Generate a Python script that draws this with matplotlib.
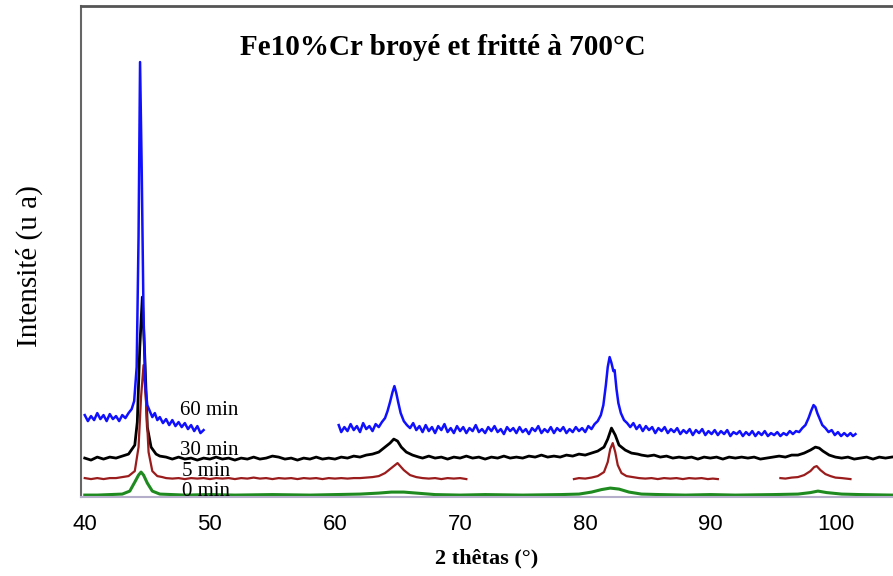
import matplotlib.pyplot as plt

# 2 theta (deg), intensity (arbitrary units) pairs

# 60 min (blue), two segments
pts_60a = [(40.0, 82), (40.25, 76), (40.5, 81), (40.75, 77), (41.0, 84), (41.25, 78),
           (41.5, 82), (41.75, 76), (42.0, 83), (42.25, 78), (42.5, 81), (42.75, 76),
           (43.0, 82), (43.25, 79), (43.5, 84), (43.75, 88), (43.95, 96), (44.15, 130),
           (44.3, 260), (44.42, 435), (44.55, 330), (44.7, 180), (44.85, 110), (45.0, 92),
           (45.2, 86), (45.4, 80), (45.6, 84), (45.8, 77), (46.0, 80), (46.25, 74),
           (46.5, 78), (46.75, 72), (47.0, 77), (47.25, 71), (47.5, 75), (47.75, 70),
           (48.0, 74), (48.25, 68), (48.5, 72), (48.75, 66), (49.0, 71), (49.25, 64),
           (49.5, 67)]

pts_60b = [(60.3, 72), (60.5, 65), (60.75, 70), (61.0, 66), (61.25, 73), (61.5, 67),
           (61.75, 71), (62.0, 65), (62.25, 74), (62.5, 68), (62.75, 71), (63.0, 66),
           (63.25, 73), (63.5, 70), (63.75, 75), (64.0, 79), (64.2, 86), (64.4, 95),
           (64.6, 105), (64.75, 111), (64.9, 104), (65.05, 95), (65.25, 84), (65.5, 76),
           (65.75, 72), (66.0, 69), (66.25, 74), (66.5, 67), (66.75, 71), (67.0, 65),
           (67.25, 72), (67.5, 66), (67.75, 70), (68.0, 64), (68.25, 71), (68.5, 67),
           (68.75, 73), (69.0, 65), (69.25, 69), (69.5, 64), (69.75, 71), (70.0, 66),
           (70.25, 70), (70.5, 64), (70.75, 69), (71.0, 66), (71.25, 72), (71.5, 65),
           (71.75, 68), (72.0, 64), (72.25, 70), (72.5, 66), (72.75, 71), (73.0, 65),
           (73.25, 68), (73.5, 63), (73.75, 70), (74.0, 66), (74.25, 69), (74.5, 64),
           (74.75, 70), (75.0, 65), (75.25, 68), (75.5, 63), (75.75, 69), (76.0, 66),
           (76.25, 71), (76.5, 64), (76.75, 68), (77.0, 65), (77.25, 70), (77.5, 64),
           (77.75, 69), (78.0, 66), (78.25, 70), (78.5, 64), (78.75, 68), (79.0, 65),
           (79.25, 70), (79.5, 66), (79.75, 69), (80.0, 65), (80.25, 71), (80.5, 68),
           (80.75, 73), (81.0, 76), (81.25, 82), (81.45, 92), (81.65, 112), (81.8, 130),
           (81.95, 140), (82.1, 134), (82.25, 126), (82.35, 127), (82.5, 108), (82.65, 94),
           (82.85, 84), (83.1, 77), (83.35, 74), (83.6, 70), (83.85, 74), (84.1, 68),
           (84.35, 72), (84.6, 66), (84.85, 71), (85.1, 67), (85.35, 70), (85.6, 64),
           (85.85, 69), (86.1, 66), (86.35, 70), (86.6, 64), (86.85, 68), (87.1, 65),
           (87.35, 69), (87.6, 63), (87.85, 67), (88.1, 64), (88.35, 68), (88.6, 62),
           (88.85, 67), (89.1, 64), (89.35, 68), (89.6, 62), (89.85, 66), (90.1, 63),
           (90.35, 67), (90.6, 62), (90.85, 66), (91.1, 63), (91.35, 67), (91.6, 61),
           (91.85, 65), (92.1, 63), (92.35, 66), (92.6, 61), (92.85, 65), (93.1, 62),
           (93.35, 66), (93.6, 61), (93.85, 65), (94.1, 62), (94.35, 66), (94.6, 61),
           (94.85, 64), (95.1, 62), (95.35, 65), (95.6, 61), (95.85, 64), (96.1, 62),
           (96.35, 66), (96.6, 63), (96.85, 66), (97.1, 65), (97.35, 69), (97.6, 72),
           (97.85, 79), (98.05, 86), (98.25, 92), (98.4, 90), (98.55, 84), (98.75, 78),
           (98.95, 72), (99.2, 69), (99.45, 65), (99.7, 67), (99.95, 62), (100.2, 65),
           (100.45, 61), (100.7, 64), (100.95, 61), (101.2, 64), (101.4, 61), (101.6, 63)]

# 30 min (black)
x_30 = [40.0, 40.5, 41.0, 41.5, 42.0, 42.5, 43.0, 43.5, 44.0, 44.2, 44.4, 44.6,
        44.8, 45.0, 45.3, 45.7, 46.0, 46.5, 47.0, 47.5, 48.0, 48.5, 49.0, 49.5,
        50.0, 50.5, 51.0, 51.5, 52.0, 52.5, 53.0, 53.5, 54.0, 54.5, 55.0, 55.5,
        56.0, 56.5, 57.0, 57.5, 58.0, 58.5, 59.0, 59.5, 60.0, 60.5, 61.0, 61.5,
        62.0, 62.5, 63.0, 63.5, 64.0, 64.4, 64.7, 65.0, 65.3, 65.7, 66.2, 66.7,
        67.0, 67.5, 68.0, 68.5, 69.0, 69.5, 70.0, 70.5, 71.0, 71.5, 72.0, 72.5,
        73.0, 73.5, 74.0, 74.5, 75.0, 75.5, 76.0, 76.5, 77.0, 77.5, 78.0, 78.5,
        79.0, 79.5, 80.0, 80.5, 81.0, 81.5, 81.8, 82.1, 82.4, 82.7, 83.2, 83.7,
        84.2, 84.5, 85.0, 85.5, 86.0, 86.5, 87.0, 87.5, 88.0, 88.5, 89.0, 89.5,
        90.0, 90.5, 91.0, 91.5, 92.0, 92.5, 93.0, 93.5, 94.0, 94.5, 95.0, 95.5,
        96.0, 96.5, 97.0, 97.5, 98.0, 98.4, 98.7, 99.0, 99.5, 100.0, 100.5, 101.0,
        101.5, 102.0, 102.5, 103.0, 103.5, 104.0, 104.5]
y_30 = [39, 37, 40, 38, 40, 39, 41, 43, 52, 75, 150, 200,
        140, 70, 50, 43, 41, 40, 38, 40, 38, 39, 37, 39,
        38, 40, 38, 39, 37, 39, 38, 40, 38, 39, 41, 40,
        38, 39, 37, 39, 38, 40, 38, 39, 38, 40, 39, 41,
        40, 42, 43, 45, 50, 54, 58, 56, 50, 45, 42, 40,
        39, 41, 39, 40, 38, 40, 39, 41, 39, 40, 38, 40,
        39, 41, 39, 40, 39, 41, 40, 42, 40, 41, 40, 42,
        41, 43, 42, 44, 46, 50, 58, 69, 62, 52, 47, 44,
        43, 42, 41, 42, 40, 41, 39, 40, 39, 40, 38, 40,
        39, 40, 38, 40, 39, 40, 39, 40, 38, 39, 40, 41,
        40, 42, 42, 44, 47, 50, 49, 46, 42, 40, 39, 40,
        38, 39, 40, 38, 40, 39, 40]

# 5 min (dark red), three segments
x_5a = [40.0, 40.5, 41.0, 41.5, 42.0, 42.5, 43.0, 43.5, 44.0, 44.3, 44.5, 44.7,
        44.9, 45.1, 45.4, 45.8, 46.2, 46.5, 47.0, 47.5, 48.0, 48.5, 49.0, 49.5,
        50.0, 50.5, 51.0, 51.5, 52.0, 52.5, 53.0, 53.5, 54.0, 54.5, 55.0, 55.5,
        56.0, 56.5, 57.0, 57.5, 58.0, 58.5, 59.0, 59.5, 60.0, 60.5, 61.0, 61.5,
        62.0, 62.5, 63.0, 63.5, 64.0, 64.5, 65.0, 65.5, 66.0, 66.5, 67.0, 67.5,
        68.0, 68.5, 69.0, 69.5, 70.0, 70.5]
y_5a = [19, 18, 19, 18, 19, 19, 20, 21, 26, 50, 100, 132,
        95, 45, 26, 21, 20, 19, 18.5, 19, 18, 19, 18.5, 19,
        18, 19, 18.5, 19, 18, 19, 18.5, 19.5, 18.5, 19, 18, 19,
        18.5, 19, 18, 19, 18.5, 19, 18, 19, 18.5, 19, 18.5, 19,
        19, 19.5, 20, 21, 24, 29, 34, 27, 22, 20, 19, 18.5,
        19, 18, 19, 18.5, 19, 18]

x_5b = [79.1, 79.5, 80.0, 80.5, 81.0, 81.5, 81.8, 82.0, 82.2, 82.4, 82.6, 82.9,
        83.3, 83.8, 84.3, 84.8, 85.3, 85.8, 86.3, 86.8, 87.3, 87.8, 88.3, 88.8,
        89.3, 89.8, 90.2, 90.6]
y_5b = [18, 19, 18.5, 19.5, 21, 25, 35, 48, 54, 45, 32, 24,
        21, 20, 19, 18.5, 19, 18, 19, 18.5, 19, 18, 19, 18.5,
        19, 18, 18.5, 18]

x_5c = [95.6, 96.0, 96.5, 97.0, 97.5, 98.0, 98.3, 98.5, 98.8, 99.2, 99.6, 100.0,
        100.5, 101.2]
y_5c = [19, 18.5, 19.5, 20, 22, 26, 30, 31, 27, 23, 21, 19.5,
        19, 18]

# 0 min (green)
x_0 = [40.0, 41.0, 42.0, 43.0, 43.6, 44.0, 44.3, 44.5, 44.7, 45.0, 45.4, 46.0,
       47.0, 48.0, 50.0, 52.0, 55.0, 58.0, 60.0, 62.0, 63.5, 64.5, 65.5, 66.5,
       68.0, 70.0, 72.0, 75.0, 78.0, 79.5, 80.5, 81.3, 82.0, 82.7, 83.5, 84.5,
       86.0, 88.0, 90.0, 92.0, 95.0, 97.0, 98.0, 98.6, 99.3, 100.5, 102.0, 104.5]
y_0 = [2, 2, 2.5, 3, 6, 15, 22, 25, 22, 14, 6, 3,
       2.5, 2, 2.5, 2, 2.5, 2, 2.5, 3, 4, 5, 5, 4,
       2.5, 2, 2.5, 2, 2.5, 3, 5, 7.5, 9, 8, 5, 3,
       2.5, 2, 2.5, 2, 2.5, 3, 4.5, 6, 4.5, 3, 2.5, 2]

x_ticks = [40, 50, 60, 70, 80, 90, 100]

serif = ['Liberation Serif', 'DejaVu Serif']

fig = plt.figure(figsize=(8.93, 5.76), dpi=100)
ax = fig.add_axes([0.0907, 0.137, 0.9093, 0.8525])

ax.plot(x_30, y_30, color='black', lw=2.0)
for xs, ys in [(x_5a, y_5a), (x_5b, y_5b), (x_5c, y_5c)]:
    ax.plot(xs, ys, color='#9b1c1c', lw=1.6)
ax.plot(x_0, y_0, color='#1f8a1f', lw=2.2)
for pts in [pts_60a, pts_60b]:
    xs, ys = zip(*pts)
    ax.plot(xs, ys, color='#1010ff', lw=1.8)

# curve labels
ax.text(47.6, 87, '60 min', family=serif, fontsize=15, va='center')
ax.text(47.6, 47, '30 min', family=serif, fontsize=15, va='center')
ax.text(47.8, 26, '5 min', family=serif, fontsize=15, va='center')
ax.text(47.8, 6, '0 min', family=serif, fontsize=15, va='center')

ax.text(0.196, 0.915, 'Fe10%Cr broyé et fritté à 700°C', transform=ax.transAxes,
        family=serif, fontsize=21, fontweight='bold', va='center')

ax.set_xlim(39.7, 104.6)
ax.set_ylim(0, 491)
ax.set_xticks(x_ticks)
ax.set_yticks([])
ax.tick_params(axis='x', length=0, labelsize=16, pad=12)
for lab in ax.get_xticklabels():
    lab.set_family('Liberation Sans')

ax.set_xlabel('2 thêtas (°)', family=serif, fontsize=16, fontweight='bold', labelpad=10)
ax.set_ylabel('Intensité (u a)', family=serif, fontsize=21)
ax.yaxis.set_label_coords(-0.047, 0.47)

ax.spines['right'].set_visible(False)
ax.spines['top'].set_color('#555555')
ax.spines['top'].set_linewidth(2)
ax.spines['left'].set_color('#666666')
ax.spines['left'].set_linewidth(1.5)
ax.spines['bottom'].set_color('#b4aecb')
ax.spines['bottom'].set_linewidth(1.5)

plt.savefig('out.png', dpi=100)
plt.close()
